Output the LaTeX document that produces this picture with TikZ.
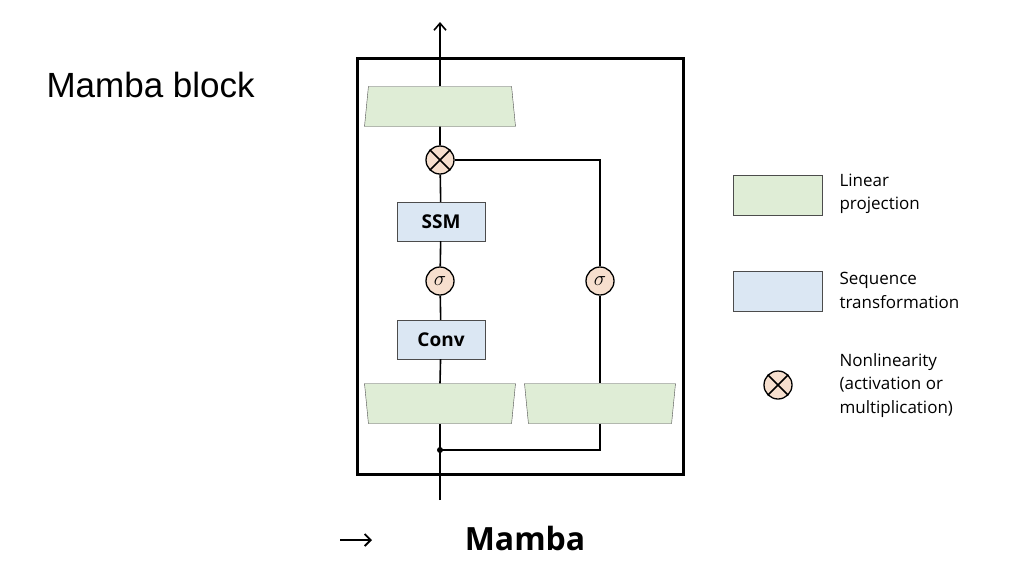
\documentclass[tikz,border=0pt]{standalone}
\usepackage{fontspec}
\setmainfont{Open Sans}
\newfontfamily\titlefont{Liberation Sans}
\usetikzlibrary{positioning,shapes.geometric,arrows.meta}
\definecolor{projgreen}{RGB}{223,237,214}
\definecolor{seqblue}{RGB}{219,231,243}
\definecolor{nonlin}{RGB}{246,223,206}
\tikzset{
  proj/.style={trapezium, trapezium angle=62, trapezium stretches body=true,
    minimum width=151pt, minimum height=40pt, inner sep=1pt,
    fill=projgreen, draw=black!70, thin},
  seq/.style={rectangle, minimum width=88pt, minimum height=39pt,
    fill=seqblue, draw=black!70, thin, font=\fontsize{19}{22}\selectfont\bfseries},
  nl/.style={circle, minimum size=28pt, inner sep=0pt, fill=nonlin, draw=black, line width=1.3pt,
    font=\fontsize{22}{24}\selectfont},
  wire/.style={line width=1.6pt},
  legtext/.style={anchor=north west, align=left, font=\fontsize{17}{23.5}\selectfont}
}
\begin{document}
\begin{tikzpicture}[x=1pt,y=-1pt]
\useasboundingbox (0,0) rectangle (1024,576);
% title
\node[anchor=west, font=\titlefont\fontsize{35}{40}\selectfont] (title) at (43,85) {Mamba block};
% outer block
\draw[line width=3pt] (357,58) rectangle (683,474);
% nodes
\node[proj] (outproj) at (440,106.5) {\phantom{x}};
\node[nl] (mult) at (440,160) {};
\draw[wire] (mult.north west) -- (mult.south east) (mult.north east) -- (mult.south west);
\node[seq] (ssm) at (441,221.5) {SSM};
\node[nl] (actl) at (440,281) {$\sigma$};
\node[seq] (conv) at (441,339.5) {Conv};
\node[proj, shape border rotate=180] (inproj) at (440,403.5) {\phantom{x}};
\node[proj, shape border rotate=180] (gateproj) at (600,403.5) {\phantom{x}};
\node[nl] (actr) at (600,281) {$\sigma$};
\coordinate (split) at (440,450);
\coordinate (inp) at (440,500);
\coordinate (outp) at (440,22);
\coordinate (corner) at (600,160);
\coordinate (corner2) at (600,450);
% wires
\draw[wire] (inp) -- (inproj.top side);
\draw[wire] (inproj.bottom side) -- (conv) (conv) -- (actl) (actl) -- (ssm) (ssm) -- (mult) (mult) -- (outproj.bottom side);
\draw[wire, -{Straight Barb[length=7pt,width=12pt]}] (outproj.top side) -- (outp);
\draw[wire] (mult) -- (corner) -- (actr) (actr) -- (gateproj.bottom side);
\draw[wire] (gateproj.top side) -- (corner2) -- (split);
\fill (split) circle (3pt);
% caption
\node[font=\fontsize{32}{36}\selectfont\bfseries] (caption) at (525,538) {Mamba};
\coordinate (arrs) at (340,540);
\coordinate (arre) at (372,540);
\draw[line width=1.8pt, -{Straight Barb[length=6pt,width=12pt]}] (arrs) -- (arre);
% legend
\node[rectangle, minimum width=89pt, minimum height=40pt, fill=projgreen, draw=black!70, thin] (legproj) at (778,195) {};
\node[rectangle, minimum width=89pt, minimum height=40pt, fill=seqblue, draw=black!70, thin] (legseq) at (778,291) {};
\node[nl] (legnl) at (778,385) {};
\draw[wire] (legnl.north west) -- (legnl.south east) (legnl.north east) -- (legnl.south west);
\node[legtext] (legprojtext) at (836,170) {Linear\\projection};
\node[legtext] (legseqtext) at (836,269) {Sequence\\transformation};
\node[legtext] (legnltext) at (836,350) {Nonlinearity\\(activation or\\multiplication)};
\end{tikzpicture}
\end{document}
